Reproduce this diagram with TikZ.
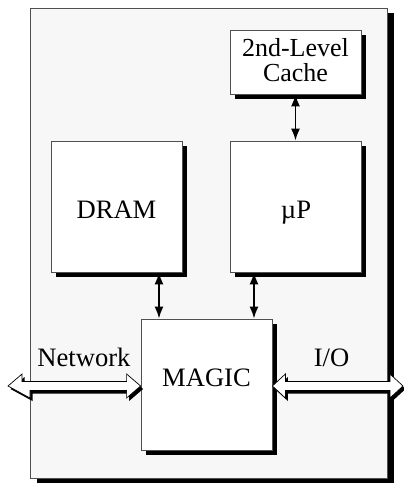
\documentclass[tikz,border=0pt]{standalone}
\usepackage{fontspec}
\setmainfont{Liberation Serif}
\usetikzlibrary{arrows.meta,shadows}
\definecolor{panel}{HTML}{F7F7F7}
\definecolor{edge}{HTML}{505050}
\tikzset{
  shadowbox/.style={draw=edge, line width=0.8pt, fill=white, inner sep=0pt,
    drop shadow={shadow xshift=#1, shadow yshift=-#1, fill=black, opacity=1}},
  unit/.style={shadowbox=5pt, minimum width=131pt, minimum height=131pt},
  lbl/.style={font=\fontsize{26.6}{23}\selectfont, inner sep=0pt, anchor=base},
  dbl/.style={line width=1.7pt, {Latex[length=12pt,width=9pt]}-{Latex[length=12pt,width=9pt]}},
  bigarrow/.style={draw=black, line width=0.7pt, fill=white, line join=miter},
  arrowshade/.style={fill=black}
}
\begin{document}
\begin{tikzpicture}[x=1pt,y=-1pt]
\useasboundingbox (0,0) rectangle (404,483);
% outer panel
\node[draw=edge, line width=0.8pt, fill=panel, minimum width=357pt, minimum height=470pt,
  drop shadow={shadow xshift=7pt, shadow yshift=-5pt, fill=black, opacity=1}] (panel) at (208.5,243) {};
% boxes
\node[shadowbox=5pt, minimum width=131pt, minimum height=64pt] (cache) at (295.5,62) {};
\node[lbl, font=\fontsize{26}{23}\selectfont] (cachelbl1) at (295.5,56) {2nd-Level};
\node[lbl, font=\fontsize{26}{23}\selectfont] (cachelbl2) at (295.5,81) {Cache};
\node[unit] (up) at (295.5,206.5) {};
\node[lbl] (uplbl) at (296,218) {µP};
\node[unit] (dram) at (116.5,206.5) {};
\node[lbl] (dramlbl) at (116.5,218) {DRAM};
\node[unit] (magic) at (206.5,384.5) {};
\node[lbl] (magiclbl) at (206.5,386.5) {MAGIC};
% connectors
\draw[dbl] (cache.south) -- (up.north);
\draw[dbl] (dram.south -| 159,0) -- (magic.north -| 159,0);
\draw[dbl] (up.south -| 254,0) -- (magic.north -| 254,0);
% network and I/O double arrows
\coordinate (netend) at (8,386);
\coordinate (ioend) at (403,386);
\foreach \dx/\dy/\sty in {2.5/3/arrowshade, 0/0/bigarrow} {
  \path[\sty] ([shift={(\dx,\dy)}]netend)
    -- ++(14,-12) -- ++(0,7.5) -- ([shift={(\dx-14,\dy-4.5)}]magic.west |- netend)
    -- ++(0,-7.5) -- ([shift={(\dx,\dy)}]magic.west |- netend)
    -- ++(-14,12) -- ++(0,-7.5) -- ([shift={(\dx+22,\dy+4.5)}]netend)
    -- ++(0,7.5) -- cycle;
  \path[\sty] ([shift={(\dx,\dy)}]magic.east |- ioend)
    -- ++(13,-12) -- ++(0,7.5) -- ([shift={(\dx-13,\dy-4.5)}]ioend)
    -- ++(0,-7.5) -- ([shift={(\dx,\dy)}]ioend)
    -- ++(-13,12) -- ++(0,-7.5) -- ([shift={(\dx+13,\dy+4.5)}]magic.east |- ioend)
    -- ++(0,7.5) -- cycle;
}
\node[lbl] (netlbl) at (84,366) {Network};
\node[lbl] (iolbl) at (331.5,366) {I/O};
\end{tikzpicture}
\end{document}
